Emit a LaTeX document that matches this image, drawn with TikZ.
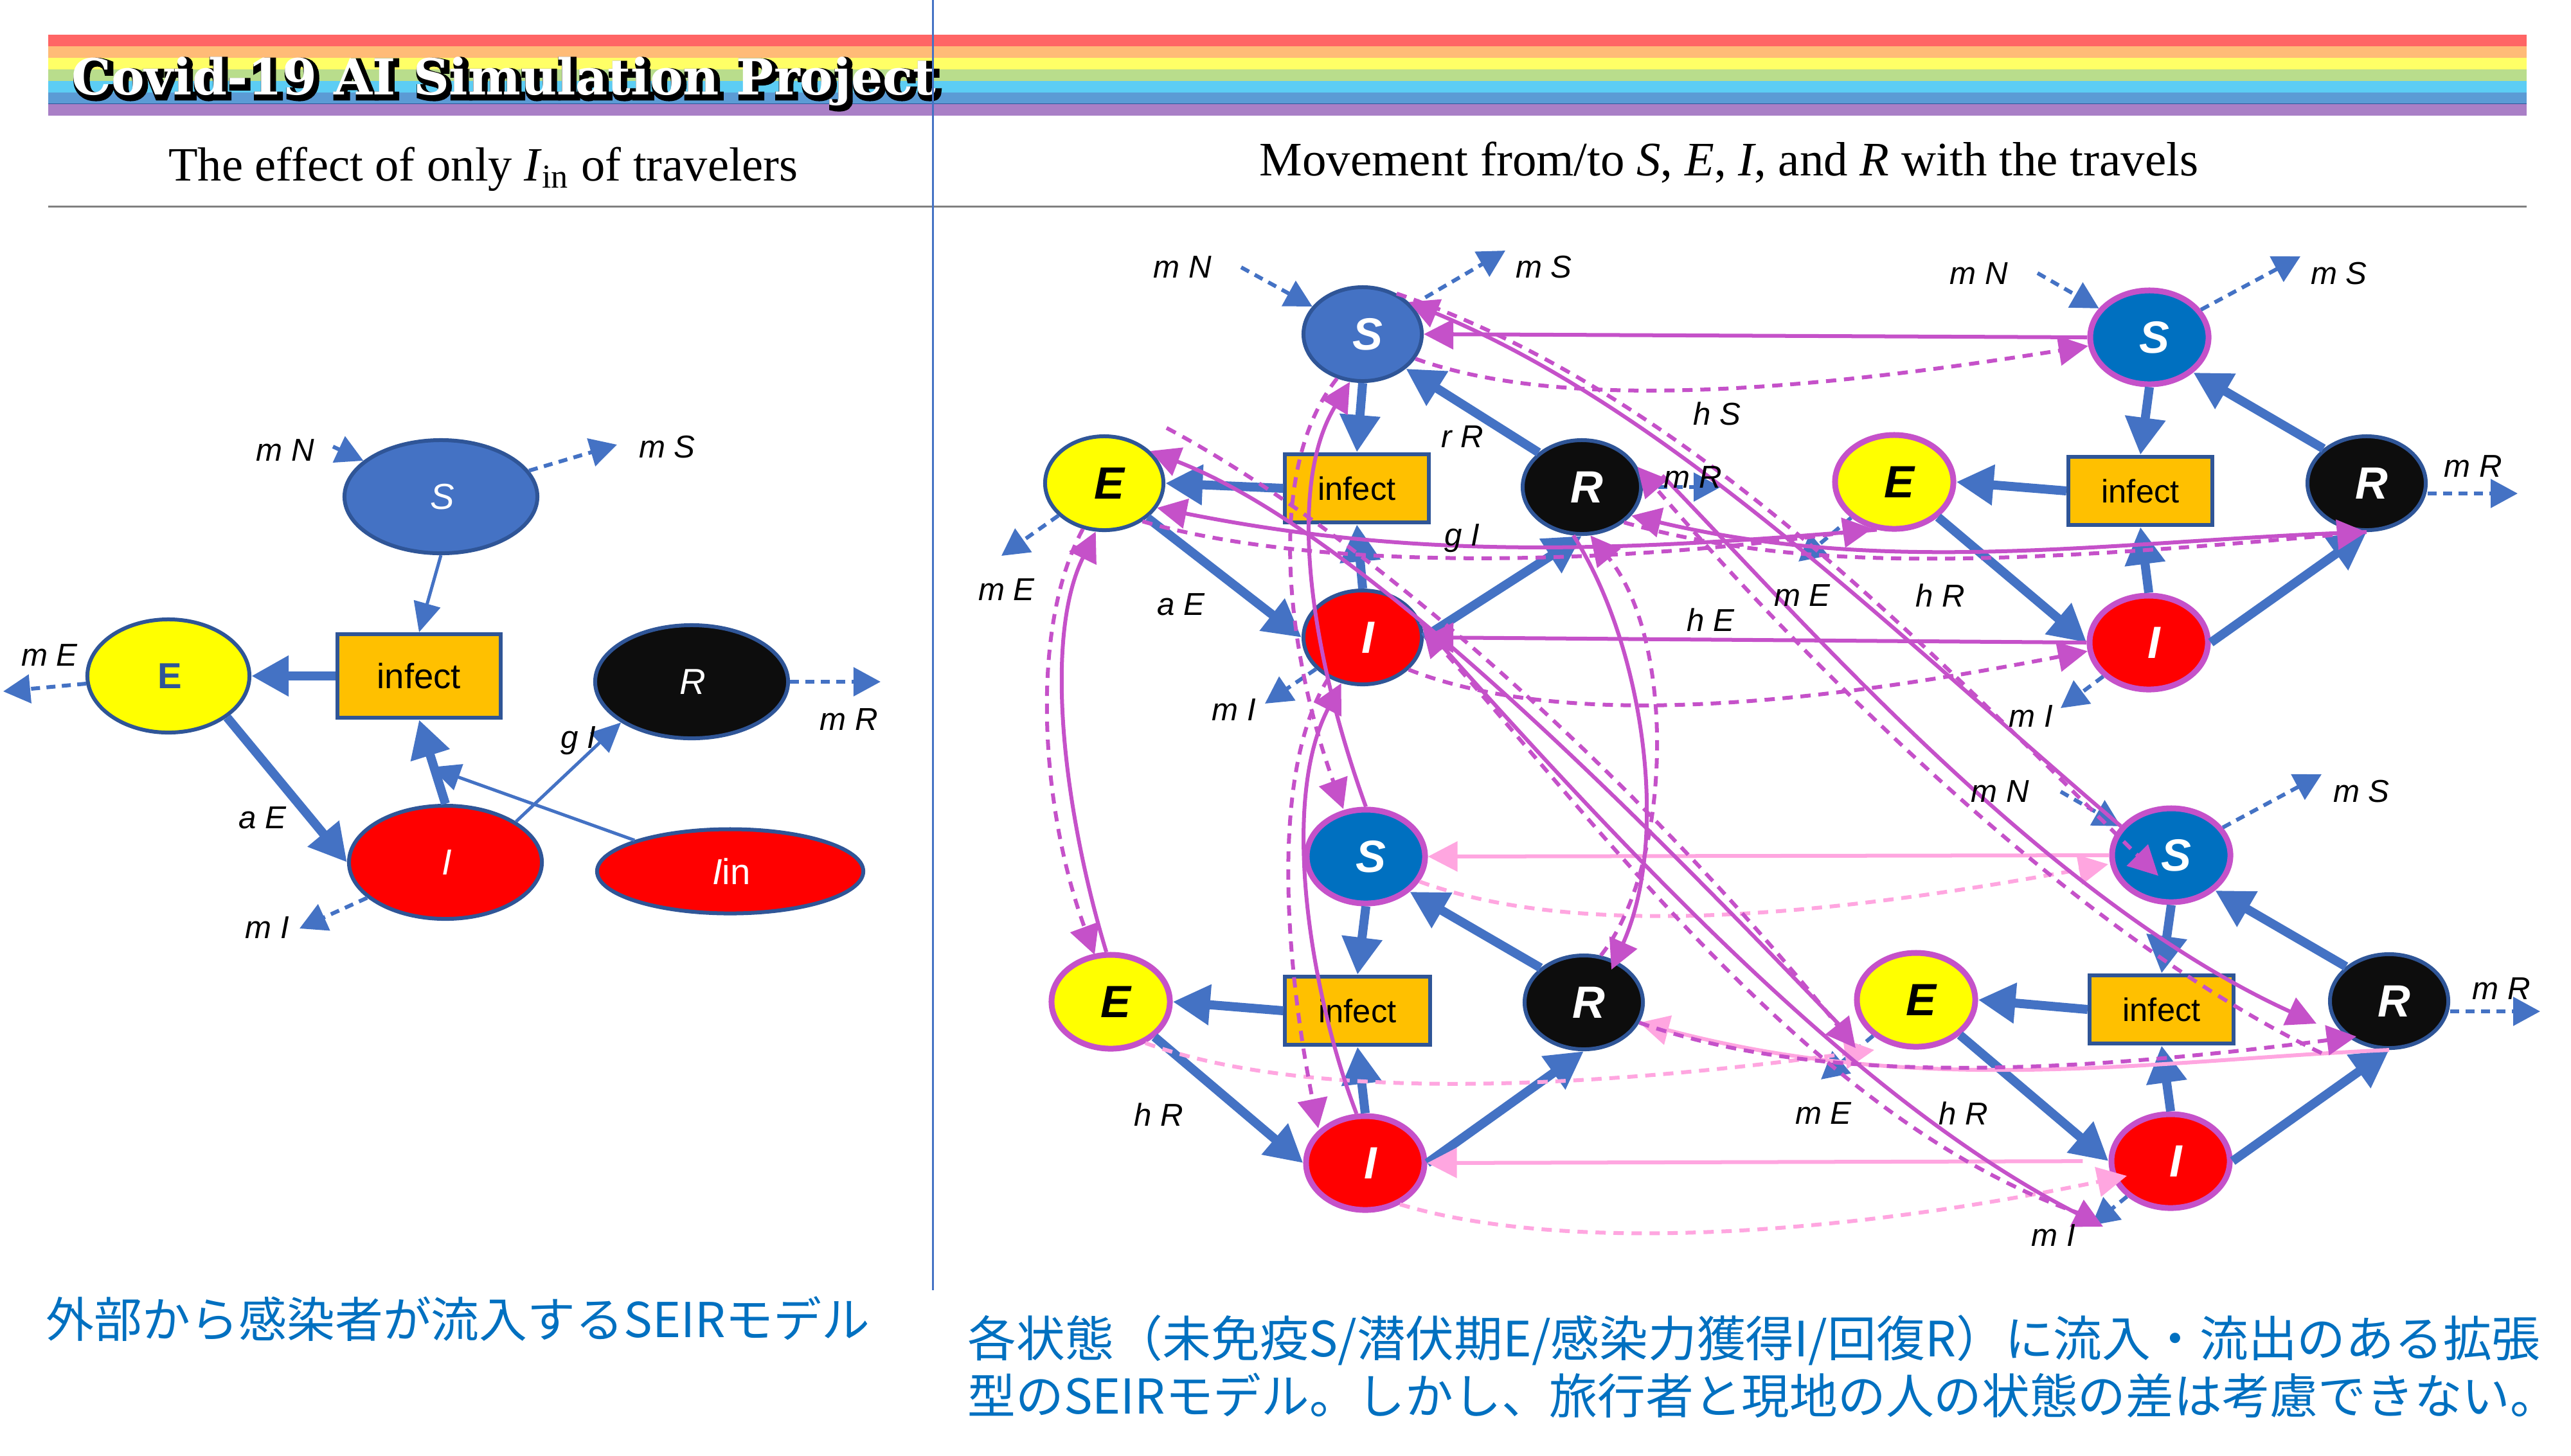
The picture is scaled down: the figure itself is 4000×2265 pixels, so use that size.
\documentclass[tikz,border=0pt]{standalone}
\usepackage{fontspec}
\setmainfont{Liberation Sans}
\newfontfamily\serifface{Liberation Serif}
\newfontfamily\cjkface{Noto Sans CJK JP}
\newfontfamily\titleface{DejaVu Serif}
\newfontfamily\titleedge{DejaVu Serif}[BoldFeatures={FakeBold=12}]
\usetikzlibrary{arrows.meta,shapes.geometric}
\definecolor{navy}{HTML}{2F5597}
\definecolor{flowblue}{HTML}{4472C4}
\definecolor{sblue}{HTML}{0070C0}
\definecolor{magen}{HTML}{C551C9}
\definecolor{pinky}{HTML}{FFA6E0}
\definecolor{amber}{HTML}{FFC000}
\definecolor{inkblack}{HTML}{0D0D0D}
\definecolor{eyellow}{HTML}{FFFF00}
\definecolor{ired}{HTML}{FF0000}
\definecolor{bandA}{HTML}{FF6565}
\definecolor{bandB}{HTML}{FFBB77}
\definecolor{bandC}{HTML}{FFFF66}
\definecolor{bandD}{HTML}{B9DD8C}
\definecolor{bandE}{HTML}{5CCDF4}
\definecolor{bandF}{HTML}{5B9BD5}
\definecolor{bandG}{HTML}{A97FC6}
\begin{document}
\begin{tikzpicture}[x=0.01cm,y=-0.01cm,>=Stealth]
\tikzset{state/.style={ellipse,draw=navy,line width=0.6mm,inner sep=0pt,minimum width=1.84cm,minimum height=1.46cm,font=\fontsize{20}{20}\selectfont\bfseries\itshape,text=white,execute at begin node={\hspace{1.6mm}}},
  trav/.style={state,draw=magen,line width=0.9mm},
  small/.style={minimum width=3cm,minimum height=1.76cm,font=\fontsize{16}{16}\selectfont\itshape,execute at begin node={\hspace{-1.2mm}}},
  infbox/.style={draw=navy,fill=amber,line width=0.6mm,inner sep=0pt,minimum width=2.2cm,minimum height=1.06cm,font=\fontsize{14.4}{16}\selectfont},
  lab/.style={font=\fontsize{14}{14}\selectfont\itshape,inner sep=0pt},
  thick arr/.style={-{Triangle[length=5.8mm,width=6mm]},draw=flowblue,line width=1.4mm},
  thin arr/.style={-{Triangle[length=4.6mm,width=4.2mm]},draw=flowblue,line width=0.5mm},
  out arr/.style={-{Triangle[length=4.2mm,width=4.4mm]},draw=flowblue,line width=0.6mm,dash pattern=on 1.4mm off 1mm},
  flow/.style={-{Triangle[length=4.6mm,width=4.6mm]},draw=magen,line width=0.6mm},
  dflow/.style={flow,dash pattern=on 1.6mm off 1.2mm},
  pflow/.style={flow,draw=pinky},
  pdflow/.style={dflow,draw=pinky}}
\useasboundingbox (0,0) rectangle (4000,2265);
% rainbow header
\foreach \c [count=\n from 0] in {bandA,bandB,bandC,bandD,bandE,bandF,bandG}
  \fill[\c] (75,54+18*\n) rectangle (3931,72+18*\n);
\draw[navy,line width=0.1mm] (75,161) -- (3931,161);
\node[font=\fontsize{22}{22}\selectfont\titleedge\bfseries,text=black] (titleback) at (788,131) {Covid-19 AI Simulation Project};
\node[font=\fontsize{22}{22}\selectfont\titleface\bfseries,text=white] (title) at (784,127) {Covid-19 AI Simulation Project};
\node[font=\fontsize{21.2}{22}\selectfont\serifface] (headleft) at (752,263) {The effect of only \textit{I}\textsubscript{in} of travelers};
\node[font=\fontsize{21.3}{22}\selectfont\serifface] (headright) at (2690,253) {Movement from/to \textit{S}, \textit{E}, \textit{I}, and \textit{R} with the travels};
\draw[gray,line width=0.3mm] (75,321) -- (3931,321);
\draw[flowblue,line width=0.3mm] (1451,0) -- (1451,2008);
% travelers only
\node[state,small,fill=flowblue] (s0) at (686,773) {S};
\node[state,small,fill=eyellow,text=navy,font=\fontsize{16}{16}\selectfont\bfseries,minimum width=2.52cm] (e0) at (262,1052) {E};
\node[infbox,minimum width=2.53cm,minimum height=1.3cm,font=\fontsize{15.5}{16}\selectfont] (inf0) at (652,1052) {infect};
\node[state,small,fill=inkblack] (r0) at (1076,1061) {R};
\node[state,small,fill=ired] (i0) at (693,1342) {I};
\node[state,small,fill=ired,minimum width=4.14cm,minimum height=1.31cm,font=\fontsize{16}{16}\selectfont] (iin) at (1136,1356) {\textit{I}in};
% upper pair
\node[state,fill=flowblue] (s1) at (2120,520) {S};
\node[state,fill=eyellow,text=black] (e1) at (1718,752) {E};
\node[infbox,minimum width=2.23cm] (inf1) at (2111,760) {infect};
\node[state,fill=inkblack] (r1) at (2461,758) {R};
\node[state,fill=ired] (i1) at (2120,992) {I};
\node[trav,fill=sblue] (s2) at (3344,525) {S};
\node[trav,fill=eyellow,text=black] (e2) at (2947,750) {E};
\node[infbox,minimum width=2.24cm] (inf2) at (3330,764) {infect};
\node[state,fill=inkblack] (r2) at (3682,752) {R};
\node[trav,fill=ired] (i2) at (3343,1000) {I};
% lower pair
\node[trav,fill=sblue] (s3) at (2125,1333) {S};
\node[trav,fill=eyellow,text=black] (e3) at (1728,1559) {E};
\node[infbox,minimum width=2.25cm] (inf3) at (2112,1573) {infect};
\node[state,fill=inkblack] (r3) at (2464,1560) {R};
\node[trav,fill=ired] (i3) at (2124,1810) {I};
\node[trav,fill=sblue] (s4) at (3378,1331) {S};
\node[trav,fill=eyellow,text=black] (e4) at (2981,1556) {E};
\node[infbox,minimum width=2.24cm] (inf4) at (3363,1571) {infect};
\node[state,fill=inkblack] (r4) at (3717,1558) {R};
\node[trav,fill=ired] (i4) at (3377,1807) {I};
% free ends of the dashed arrows
\coordinate (mn0) at (518,695); \coordinate (ms0) at (960,692); \coordinate (me0) at (5,1076); \coordinate (mi0) at (466,1445); \coordinate (mr0) at (1370,1061);
\coordinate (mn1) at (1931,416); \coordinate (ms1) at (2342,390); \coordinate (me1) at (1558,865); \coordinate (mi1) at (1968,1095); \coordinate (mr1) at (2677,758);
\coordinate (mn2) at (3170,425); \coordinate (ms2) at (3579,399); \coordinate (me2) at (2798,874); \coordinate (mi2) at (3206,1102); \coordinate (mr2) at (3917,768);
\coordinate (mn4) at (3206,1232); \coordinate (ms4) at (3612,1205); \coordinate (me4) at (2833,1680); \coordinate (mi4) at (3254,1907); \coordinate (mr4) at (3952,1574);
\foreach \g in {0,1,2,4} {
  \draw[out arr] (mn\g) -- (s\g);
  \draw[out arr] (s\g) -- (ms\g);
  \draw[out arr] (e\g) -- (me\g);
  \draw[out arr] (i\g) -- (mi\g);
  \draw[out arr] (r\g.east |- mr\g) -- (mr\g);
}
\foreach \g in {1,2,3,4} {
  \draw[thick arr] (s\g.south) -- (inf\g.north);
  \draw[thick arr] (inf\g.west) -- (e\g.east);
  \draw[thick arr] (e\g.south east) -- (i\g.west);
  \draw[thick arr] (i\g.north) -- (inf\g.south);
  \draw[thick arr] (i\g.east) -- (r\g.south);
  \draw[thick arr] (r\g.north west) -- (s\g.south east);
}
\draw[thin arr] (s0.south) -- (inf0.north);
\draw[thick arr] (inf0.west) -- (e0.east);
\draw[thick arr] (e0.south east) -- (i0.west);
\draw[thick arr] (i0.north) -- (inf0.south);
\draw[thin arr] (i0.30) -- (r0.-150);
\coordinate (iintip) at (670,1194);
\draw[thin arr] (iin.162) -- (iintip);
% free ends inside or beside the nodes
\coordinate (stip3) at (3280,1345); \coordinate (itip3) at (3309,1830); \coordinate (etip3) at (2916,1634); \coordinate (rtip3) at (3666,1613);
\coordinate (stipv) at (2090,1259); \coordinate (itipv) at (2051,1756); \coordinate (rtipv) at (2507,1509); \coordinate (etipv) at (1703,1486);
\coordinate (stipd) at (3358,1363); \coordinate (rfromd) at (2586,740); \coordinate (rtipd) at (3604,1593); \coordinate (efromd) at (1815,666); \coordinate (etipd) at (2887,1631); \coordinate (itipd) at (3272,1909);
\coordinate (efrom4) at (2878,1612); \coordinate (ifrom4) at (3240,1890); \coordinate (rfrom4) at (3612,1639);
% pink flows between the lower pair
\draw[pflow] (s4.west) -- (s3.east);
\draw[pdflow] (s3.-25) .. controls (2450,1460) and (2820,1430) .. (stip3);
\draw[pflow,shorten <=0.4cm] (i4.west) -- (i3.east);
\draw[pdflow] (i3.-50) .. controls (2430,1950) and (2850,1925) .. (itip3);
\draw[pdflow] (e3.-50) .. controls (2050,1720) and (2500,1690) .. (etip3);
\draw[pflow] (r4.south) .. controls (3350,1650) and (3000,1710) .. (r3.-20);
% flows between the upper pair
\draw[flow] (s2.west) -- (s1.east);
\draw[dflow] (s1.-25) .. controls (2430,640) and (2800,610) .. (s2.188);
\draw[flow] (i2.west) -- (i1.east);
\draw[dflow] (i1.-35) .. controls (2430,1135) and (2800,1100) .. (i2.188);
\draw[flow] (e2.-110) .. controls (2500,860) and (2200,870) .. (e1.-25);
\draw[dflow] (e1.-45) .. controls (2050,890) and (2500,880) .. (e2.-115);
\draw[flow] (r2.south) .. controls (3300,840) and (2950,900) .. (r1.-30);
\draw[dflow] (r1.-40) .. controls (2800,890) and (3100,880) .. (r2.south);
\draw[dflow] (r3.-20) .. controls (2800,1680) and (3150,1680) .. (rtip3);
% flows down the left side
\draw[flow] (s3.north) .. controls (2040,1020) and (2000,760) .. (s1.-105);
\draw[dflow] (s1.-120) .. controls (1960,740) and (2010,1040) .. (stipv);
\draw[flow] (i3.100) .. controls (2040,1550) and (1990,1250) .. (i1.-115);
\draw[dflow] (i1.-130) .. controls (1975,1200) and (2000,1500) .. (itipv);
\draw[flow] (r1.-100) .. controls (2555,1000) and (2600,1300) .. (rtipv);
\draw[dflow] (r3.70) .. controls (2600,1350) and (2610,1000) .. (r1.-80);
\draw[flow] (e3.95) .. controls (1660,1280) and (1620,1000) .. (e1.-100);
\draw[dflow] (e1.-115) .. controls (1600,980) and (1620,1260) .. (etipv);
% long flows across
\draw[dflow] (s1.50) .. controls (2620,610) and (2980,990) .. (stipd);
\draw[flow] (s4.150) .. controls (2930,970) and (2600,640) .. (s1.35);
\draw[flow] (rfromd) .. controls (2800,960) and (3180,1400) .. (rtipd);
\draw[dflow] (rfrom4) .. controls (3220,1450) and (2800,1020) .. (r1.20);
\draw[flow] (efrom4) .. controls (2550,1270) and (2120,830) .. (e1.35);
\draw[dflow] (efromd) .. controls (2160,850) and (2590,1260) .. (etipd);
\draw[flow] (i1.15) .. controls (2550,1350) and (2900,1720) .. (itipd);
\draw[dflow] (ifrom4) .. controls (2830,1750) and (2500,1300) .. (i1.10);
% labels
\foreach \n/\px/\py/\t in {a/444/701/m N,b/1038/696/m S,c/77/1020/m E,d/408/1273/a E,f/900/1153/g I,g/416/1444/m I,h/1321/1120/m R,
  i/1840/416/m N,j/2402/416/m S,k/1566/918/m E,l/1920/1105/m I,m/2634/743/m R,n/1837/941/a E,o/2275/680/r R,p/2275/838/g I,q/2671/644/h S,r/2661/965/h E,
  s/3079/426/m N,t/3639/426/m S,u/2804/927/m E,v/3160/1115/m I,w/3848/726/m R,x/3019/927/h R,
  y/1803/1735/h R,
  z/3112/1232/m N,aa/3674/1232/m S,ab/2837/1733/m E,ac/3195/1923/m I,ad/3892/1539/m R,ae/3055/1733/h R}
  \node[lab] (lab\n) at (\px,\py) {\t};
\node[anchor=west,inner sep=0pt,text=sblue,font=\fontsize{21.3}{21.3}\selectfont\cjkface] (noteleft) at (71,2053) {外部から感染者が流入するSEIRモデル};
\node[anchor=west,inner sep=0pt,text=sblue,align=left,font=\fontsize{21.55}{25.2}\selectfont\cjkface] (noteright) at (1505,2127) {各状態（未免疫S/潜伏期E/感染力獲得I/回復R）に流入・流出のある拡張\\\fontsize{21.25}{25.2}\selectfont 型のSEIRモデル。しかし、旅行者と現地の人の状態の差は考慮できない。};
\end{tikzpicture}
\end{document}
